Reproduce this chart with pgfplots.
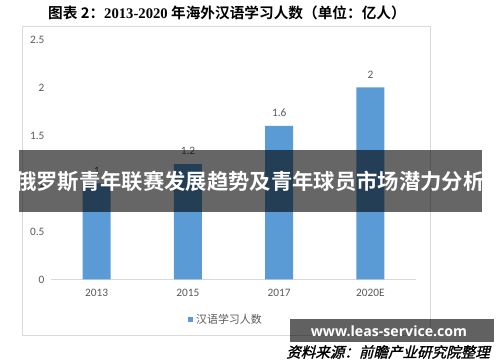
\documentclass[border=0pt]{standalone}
\usepackage{pgfplots}
\pgfplotsset{compat=1.18}
\usepackage{fontspec}
\setmainfont{Carlito}
\newfontfamily\cjk{Noto Sans CJK SC}
\newfontfamily\cjkb{Noto Sans CJK SC Bold}
\newfontfamily\cjksl[FakeSlant=0.25,FakeBold=1.5]{Noto Sans CJK SC}
\newfontfamily\wm{Open Sans}
\newfontfamily\serifb{Liberation Serif}
\definecolor{barblue}{HTML}{5B9BD5}
\definecolor{txtgray}{HTML}{595959}
\definecolor{framec}{HTML}{D9D9D9}
\begin{document}
\begin{tikzpicture}[x=0.75pt,y=0.75pt]
\path[use as bounding box] (0,0) rectangle (500,362);
\draw[framec, line width=0.75pt] (22,336) rectangle (430,27);
\node[font=\fontsize{11}{12}\cjkb] at (227,349.5) {图表 2：{\serifb\bfseries 2013-2020} 年海外汉语学习人数（单位：亿人）};
\begin{axis}[
  at={(56,86)}, anchor=south west, scale only axis,
  width=273.75pt, height=180pt,
  ymin=0, ymax=2.5, xmin=-0.5, xmax=3.5,
  ybar, bar width=21pt,
  xtick={0,1,2,3}, xticklabels={2013,2015,2017,2020E},
  ytick={0,0.5,1,1.5,2,2.5},
  axis x line*=bottom, axis y line*=left,
  y axis line style={draw=none},
  x axis line style={framec, line width=0.75pt, -},
  major tick length=0pt,
  /pgf/number format/assume math mode=true,
  tick label style={font=\fontsize{8.5}{10}\selectfont, text=txtgray},
  yticklabel style={xshift=-1.5pt},
  xticklabel style={yshift=-4pt},
  nodes near coords,
  nodes near coords style={font=\fontsize{8.5}{10}\selectfont, text=txtgray, yshift=3.5pt},
  legend style={at={(0.48,-0.167)}, anchor=center, draw=none, fill=none,
    font=\fontsize{8.2}{10}\cjk, text=txtgray},
  legend image code/.code={\fill[barblue] (0pt,-2pt) rectangle (4pt,2pt);},
]
\addplot[fill=barblue, draw=none] coordinates {(0,1) (1,1.2) (2,1.6) (3,2)};
\addlegendentry{汉语学习人数}
\end{axis}
\fill[black, opacity=0.6] (19,150) rectangle (482,212);
\node[white, font=\fontsize{16}{18}\cjkb] at (250,181) {俄罗斯青年联赛发展趋势及青年球员市场潜力分析};
\node[font=\fontsize{10.9}{12}\cjksl] at (388,10) {资料来源：前瞻产业研究院整理};
\fill[black, opacity=0.62] (290,43) rectangle (494,20);
\node[white, font=\fontsize{10.6}{12}\wm\bfseries] at (389,31) {www.leas-service.com};
\end{tikzpicture}
\end{document}
